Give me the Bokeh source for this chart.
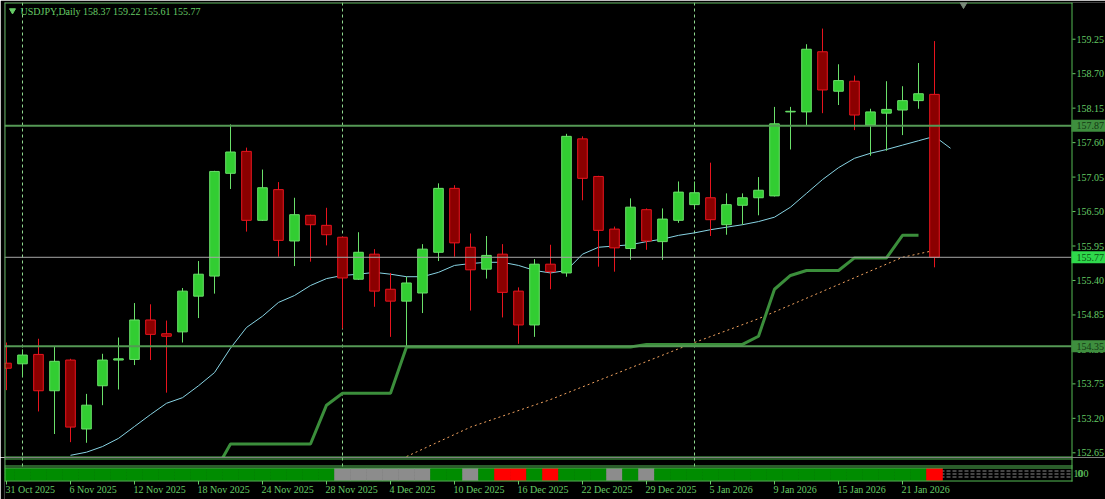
import datetime as dt
from bokeh.plotting import figure
from bokeh.layouts import column
from bokeh.models import Range1d, ColumnDataSource
from bokeh.core.properties import value
from bokeh.embed import file_html
from bokeh.resources import INLINE

# ---------------- data ----------------
symbol = "USDJPY"
timeframe = "Daily"

dates = [
    "2025-10-31",
    "2025-11-03", "2025-11-04", "2025-11-05", "2025-11-06", "2025-11-07",
    "2025-11-10", "2025-11-11", "2025-11-12", "2025-11-13", "2025-11-14",
    "2025-11-17", "2025-11-18", "2025-11-19", "2025-11-20", "2025-11-21",
    "2025-11-24", "2025-11-25", "2025-11-26", "2025-11-27", "2025-11-28",
    "2025-12-01", "2025-12-02", "2025-12-03", "2025-12-04", "2025-12-05",
    "2025-12-08", "2025-12-09", "2025-12-10", "2025-12-11", "2025-12-12",
    "2025-12-15", "2025-12-16", "2025-12-17", "2025-12-18", "2025-12-19",
    "2025-12-22", "2025-12-23", "2025-12-24", "2025-12-26",
    "2025-12-29", "2025-12-30", "2025-12-31", "2026-01-02",
    "2026-01-05", "2026-01-06", "2026-01-07", "2026-01-08", "2026-01-09",
    "2026-01-12", "2026-01-13", "2026-01-14", "2026-01-15", "2026-01-16",
    "2026-01-19", "2026-01-20", "2026-01-21", "2026-01-22", "2026-01-23",
]

opens = [154.08, 154.07, 154.22, 153.64, 154.13, 153.03, 153.72, 154.13, 154.14, 154.77,
         154.55, 154.58, 155.15, 155.47, 157.11, 157.46, 156.36, 156.85, 156.03, 156.44,
         156.28, 156.09, 155.42, 155.82, 155.26, 155.07, 155.20, 155.85, 156.87, 155.93,
         155.58, 155.82, 155.23, 154.69, 155.66, 155.52, 157.66, 157.06, 156.22, 155.91,
         156.53, 156.02, 156.36, 156.61, 156.72, 156.29, 156.60, 156.72, 156.75, 158.09,
         158.09, 159.05, 158.42, 158.58, 157.88, 158.07, 158.12, 158.27, 158.37]
highs = [154.41, 154.30, 154.47, 154.34, 154.15, 153.59, 154.23, 154.49, 155.04, 155.02,
         154.76, 155.28, 155.71, 157.15, 157.89, 157.52, 157.17, 156.97, 156.72, 156.45,
         156.56, 156.10, 156.17, 155.90, 155.52, 155.46, 155.98, 156.95, 156.92, 156.15,
         156.11, 155.98, 155.29, 155.74, 155.97, 157.74, 157.70, 157.07, 156.26, 156.71,
         156.55, 156.55, 156.98, 156.98, 157.28, 156.79, 156.79, 157.05, 158.17, 158.17,
         159.17, 159.42, 158.85, 158.67, 158.14, 158.58, 158.50, 158.87, 159.22]
lows = [153.65, 153.86, 153.31, 152.95, 152.82, 152.81, 153.41, 153.66, 154.05, 154.13,
        153.61, 154.41, 154.80, 155.19, 156.86, 156.18, 156.35, 155.78, 155.63, 155.70,
        155.96, 154.63, 155.41, 154.98, 154.50, 154.34, 154.88, 155.71, 155.78, 154.92,
        155.43, 154.81, 154.39, 154.50, 155.26, 155.46, 156.68, 155.62, 155.54, 155.73,
        155.89, 155.73, 156.32, 156.55, 156.11, 156.13, 156.29, 156.44, 156.74, 157.49,
        157.88, 158.07, 158.20, 157.80, 157.39, 157.47, 157.72, 158.14, 155.61]
closes = [154.00, 154.21, 153.64, 154.11, 153.06, 153.41, 154.13, 154.15, 154.77, 154.54,
          154.51, 155.23, 155.50, 157.14, 157.45, 156.36, 156.88, 156.04, 156.45, 156.29,
          156.13, 155.44, 155.85, 155.23, 155.07, 155.36, 155.90, 156.87, 156.00, 155.57,
          155.80, 155.21, 154.69, 155.66, 155.54, 157.70, 157.03, 156.20, 155.92, 156.57,
          156.03, 156.38, 156.81, 156.80, 156.37, 156.61, 156.72, 156.84, 157.90, 158.10,
          159.09, 158.44, 158.59, 158.04, 158.09, 158.13, 158.27, 158.38, 155.77]

# moving average (cyan), first value at bar 4, last one shifted one bar ahead
ma_first_bar = 4
ma_values = [152.61, 152.66, 152.75, 152.88, 153.07, 153.26, 153.44, 153.53, 153.72, 153.93,
             154.32, 154.65, 154.83, 155.05, 155.16, 155.32, 155.43, 155.48, 155.50, 155.53,
             155.50, 155.46, 155.46, 155.53, 155.64, 155.67, 155.69, 155.69, 155.64, 155.56,
             155.52, 155.56, 155.82, 155.93, 155.95, 155.97, 156.02, 156.06, 156.12, 156.16,
             156.21, 156.25, 156.29, 156.34, 156.41, 156.57, 156.79, 157.01, 157.20, 157.35,
             157.43, 157.49, 157.56, 157.63, 157.70, 157.51]

# stepped support line (thick green): vertices
stop_bars = [13, 14, 19, 20, 21, 24, 25, 39, 40, 46, 47, 48, 49, 50, 52, 53, 55, 56, 57]
stop_values = [152.34, 152.79, 152.79, 153.41, 153.60, 153.60, 154.34, 154.34, 154.38, 154.38,
               154.51, 155.26, 155.48, 155.56, 155.56, 155.76, 155.76, 156.12, 156.12]

# slow trend line (orange dotted): vertices
trend_bars = [25, 29, 34, 43, 47, 56, 58]
trend_values = [152.59, 153.06, 153.50, 154.41, 154.79, 155.77, 155.88]

# bottom state strip: G = up, N = neutral, R = down
strip_states = ["G", "G", "G", "G", "G", "G", "G", "G", "G", "G",
                "G", "G", "G", "G", "G", "G", "G", "G", "G", "G",
                "G", "N", "N", "N", "N", "N", "N", "G", "G", "N",
                "G", "R", "R", "G", "R", "G", "G", "G", "N", "G",
                "N", "G", "G", "G", "G", "G", "G", "G", "G", "G",
                "G", "G", "G", "G", "G", "G", "G", "G", "R"]
strip_scale_labels = ["100", "0"]

price_ticks = [152.65, 153.20, 153.75, 154.30, 154.85, 155.40, 155.95,
               156.50, 157.05, 157.60, 158.15, 158.70, 159.25]
level_prices = [157.87, 154.35]
date_label_step = 4

# ---------------- style ----------------
FONT = "Liberation Sans Narrow"
BG = "#000000"
FG = "#66CC66"
FRAME = "#55BB55"
SEP = "#8FD88F"
BULL_FILL, BULL_LINE = "#32CD32", "#6AE06A"
BEAR_FILL, BEAR_LINE = "#8B0000", "#E8141E"
STATE_COL = {"G": "#008C00", "N": "#8C8C8C", "R": "#FF0000"}

W = 1105
MAIN_H = 457
SUB_H = 42
LEFT_PX, RIGHT_PX = 4, 1071
PX_PER_BAR = 16.0

n = len(opens)
bars = list(range(n))
x_range = Range1d(-0.125, -0.125 + (W - LEFT_PX) / PX_PER_BAR)

# ---------------- main window ----------------
pm = figure(width=W, height=MAIN_H, output_backend="svg", toolbar_location=None,
            x_range=x_range, y_range=Range1d(152.575, 159.836),
            x_axis_location=None, y_axis_location=None,
            min_border_left=LEFT_PX, min_border_right=0,
            min_border_top=2, min_border_bottom=0,
            background_fill_color=BG, border_fill_color=BG, outline_line_color=None)
pm.grid.visible = False
pm.extra_x_ranges = {"px": Range1d(LEFT_PX, W)}
pm.extra_y_ranges = {"px": Range1d(MAIN_H, 2)}

# month separators
months = [dt.date.fromisoformat(d).month for d in dates]
sep_bars = [i for i in range(1, n) if months[i] != months[i - 1]]
pm.segment(x0=sep_bars, x1=sep_bars, y0=[2] * len(sep_bars), y1=[MAIN_H] * len(sep_bars),
           y_range_name="px", line_color=SEP, line_width=1, line_dash="3 3")

# indicator lines
pm.line(x=list(range(ma_first_bar, ma_first_bar + len(ma_values))), y=ma_values,
        line_color="#88D4E4", line_width=1)
pm.line(x=trend_bars, y=trend_values, line_color="#F4A460", line_width=1, line_dash="2 3")
pm.line(x=stop_bars, y=stop_values, line_color="#3B8E3B", line_width=3)

# candles
up = [c >= o for o, c in zip(opens, closes)]
src = ColumnDataSource(dict(
    x=bars, h=highs, l=lows,
    top=[max(o, c) for o, c in zip(opens, closes)],
    bot=[min(o, c) for o, c in zip(opens, closes)],
    fill=[BULL_FILL if u else BEAR_FILL for u in up],
    edge=[BULL_LINE if u else BEAR_LINE for u in up],
))
pm.segment(x0="x", x1="x", y0="h", y1="l", line_color="edge", line_width=1, source=src)
pm.vbar(x="x", width=0.6, top="top", bottom="bot", fill_color="fill",
        line_color="edge", line_width=1, source=src)

# horizontal levels and bid line (end at the price scale)
nl = len(level_prices)
pm.segment(x0=[LEFT_PX] * nl, x1=[RIGHT_PX] * nl, y0=level_prices, y1=level_prices,
           x_range_name="px", line_color="#559955", line_width=2)
pm.segment(x0=[LEFT_PX], x1=[RIGHT_PX], y0=[closes[-1]], y1=[closes[-1]],
           x_range_name="px", line_color="#A8A8A8", line_width=1)

# window frame
pm.segment(x0=[LEFT_PX, LEFT_PX, LEFT_PX + 0.5, RIGHT_PX + 0.5],
           x1=[RIGHT_PX + 1, RIGHT_PX + 1, LEFT_PX + 0.5, RIGHT_PX + 0.5],
           y0=[2.5, MAIN_H - 0.5, 2, 2], y1=[2.5, MAIN_H - 0.5, MAIN_H, MAIN_H],
           x_range_name="px", y_range_name="px", line_color=FRAME, line_width=1)

# header
header = f"{symbol},{timeframe}  {opens[-1]:.2f} {highs[-1]:.2f} {lows[-1]:.2f} {closes[-1]:.2f}"
pm.text(x=[20], y=[11], text=[header], x_range_name="px", y_range_name="px",
        text_font=value(FONT), text_font_size="10px", text_color=FG,
        text_baseline="middle", text_align="left")
pm.scatter(x=[12], y=[10], marker="inverted_triangle", size=6, x_range_name="px",
           y_range_name="px", fill_color=FG, line_color=FG)
pm.scatter(x=[963], y=[4], marker="inverted_triangle", size=7, x_range_name="px",
           y_range_name="px", fill_color="#7A8A7A", line_color="#7A8A7A")

# price scale (ticks placed through the price scale)
nt = len(price_ticks)
pm.segment(x0=[RIGHT_PX + 1] * nt, x1=[RIGHT_PX + 4] * nt, y0=price_ticks, y1=price_ticks,
           x_range_name="px", line_color=FG, line_width=1)
pm.text(x=[RIGHT_PX + 5] * nt, y=price_ticks, text=[f"{t:.2f}" for t in price_ticks],
        x_range_name="px", text_font=value(FONT), text_font_size="10px", text_color=FG,
        text_baseline="middle", text_align="left")

# price boxes for the levels and the bid
box_prices = level_prices + [closes[-1]]
box_fill = ["#3E8E3E", "#3E8E3E", "#2FD94C"]
box_text = ["#143814", "#143814", "#0A5012"]
pm.rect(x=[(RIGHT_PX + W) / 2] * 3, y=box_prices, width=W - RIGHT_PX, height=12,
        width_units="screen", height_units="screen", x_range_name="px",
        fill_color=box_fill, line_color=None)
pm.text(x=[RIGHT_PX + 5] * 3, y=box_prices, text=[f"{v:.2f}" for v in box_prices],
        x_range_name="px", text_font=value(FONT), text_font_size="10px", text_color=box_text,
        text_baseline="middle", text_align="left")

# ---------------- indicator windows + time axis ----------------
pb = figure(width=W, height=SUB_H, output_backend="svg", toolbar_location=None,
            x_range=x_range, y_range=Range1d(MAIN_H + SUB_H, MAIN_H),
            x_axis_location=None, y_axis_location=None,
            min_border_left=LEFT_PX, min_border_right=0,
            min_border_top=0, min_border_bottom=0,
            background_fill_color=BG, border_fill_color=BG, outline_line_color=None)
pb.grid.visible = False
pb.extra_x_ranges = {"px": Range1d(LEFT_PX, W)}

pb.segment(x0=sep_bars, x1=sep_bars, y0=[457] * len(sep_bars), y1=[467] * len(sep_bars),
           line_color=SEP, line_width=1, line_dash="3 3")

# level grid of the strip window
pb.segment(x0=[LEFT_PX] * 3, x1=[RIGHT_PX] * 3, y0=[470.5, 473.5, 476.5],
           y1=[470.5, 473.5, 476.5], x_range_name="px",
           line_color="#8A8A8A", line_width=1, line_dash="4 2")
strip_cols = [STATE_COL[s] for s in strip_states]
pb.vbar(x=bars, width=1.0, bottom=[480] * n, top=[468] * n,
        fill_color=strip_cols, line_color=strip_cols, line_width=0.6)

# window frames
pb.segment(x0=[LEFT_PX] * 4 + [LEFT_PX + 0.5, RIGHT_PX + 0.5],
           x1=[RIGHT_PX + 1] * 4 + [LEFT_PX + 0.5, RIGHT_PX + 0.5],
           y0=[458.5, 465.5, 467.5, 480.5, 457, 457],
           y1=[458.5, 465.5, 467.5, 480.5, 481, 481],
           x_range_name="px", line_color=FRAME, line_width=1)

# time axis
tick_bars = bars[::date_label_step]
tick_text = []
for i in tick_bars:
    d = dt.date.fromisoformat(dates[i])
    tick_text.append(f"{d.day} {d.strftime('%b')} {d.year}")
pb.segment(x0=tick_bars, x1=tick_bars, y0=[480.5] * len(tick_bars), y1=[484] * len(tick_bars),
           line_color=FG, line_width=1)
pb.text(x=tick_bars, y=[483.5] * len(tick_bars), text=tick_text, x_offset=-1,
        text_font=value(FONT), text_font_size="10px", text_color=FG,
        text_baseline="top", text_align="left")

pb.text(x=[RIGHT_PX + 2, RIGHT_PX + 6], y=[473, 473], text=strip_scale_labels,
        x_range_name="px", text_font=value(FONT), text_font_size="10px", text_color=FG,
        text_baseline="middle", text_align="left")

layout = column(pm, pb, spacing=0,
                styles={"position": "absolute", "left": "0px", "top": "0px"})
open("out.html", "w").write(file_html(layout, INLINE))
